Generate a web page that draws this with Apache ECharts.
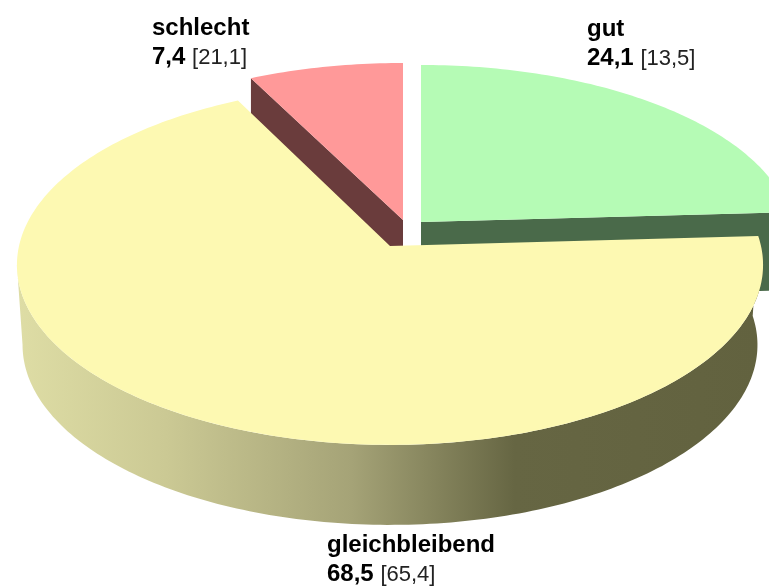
<!DOCTYPE html>
<html>
<head>
<meta charset="utf-8">
<style>html,body{margin:0;padding:0;background:#fff}#c{width:769px;height:586px}</style>
<script src="https://cdn.jsdelivr.net/npm/echarts@6/dist/echarts.min.js"></script>
</head>
<body>
<div id="c"></div>
<script>
var categories = ['gut', 'schlecht', 'gleichbleibend'];
var values = [24.1, 7.4, 68.5];
var priorValues = [13.5, 21.1, 65.4];

var topColors = ['#B5FBB5', '#FF9999', '#FDF9B2'];
var faceColors = ['#4A6A4A', '#6A3C3C', null];
var apexes = [[421, 222], [403, 220], [390, 246]];
var sliceScaleY = [0.975, 0.975, 1];
var labelAnchors = [[587, 15], [152, 14], [327, 531]];

var RX = 371, RY = 178, PERSP = 0.105, DEPTH = 80, BOTTOM_SCALE = 0.985;
var START_DEG = -90; // first slice (gut) starts at 12 o'clock
var LEFTMOST_DEG = 174; // where the projected rim is widest on the left

function fmt(v) { return v.toFixed(1).replace('.', ','); }

function rim(i, deg, lower) {
  var apex = apexes[i];
  var t = deg * Math.PI / 180, X = Math.cos(t), Y = Math.sin(t), w = 1 - PERSP * Y;
  var dx = RX * X / w, dy = sliceScaleY[i] * RY * Y / w;
  return lower ? [apex[0] + dx * BOTTOM_SCALE, apex[1] + dy + DEPTH] : [apex[0] + dx, apex[1] + dy];
}
function arc(i, a0, a1, lower) {
  var pts = [], n = Math.ceil(Math.abs(a1 - a0));
  for (var k = 0; k <= n; k++) pts.push(rim(i, a0 + (a1 - a0) * k / n, lower));
  return pts;
}
// angular span of each slice, walking gut -> gleichbleibend -> schlecht clockwise
var walk = [0, 2, 1], spans = {}, cursor = START_DEG;
walk.forEach(function (i) {
  var a = cursor, b = cursor + values[i] * 3.6;
  spans[i] = [a, b];
  cursor = b;
});

function renderItem(params, api) {
  var i = params.dataIndex, v = api.value(0), s = spans[i], apex = apexes[i];
  var kids = [];
  if (i === 2) {
    var wallEnd = Math.min(s[1], LEFTMOST_DEG);
    var top = arc(i, s[0], wallEnd, false), low = arc(i, s[0], wallEnd, true).reverse();
    kids.push({
      type: 'polygon', shape: { points: top.concat(low) },
      style: {
        fill: {
          type: 'linear', x: 17, y: 0, x2: 760, y2: 0, global: true,
          colorStops: [
            { offset: 0, color: '#DEDDA5' }, { offset: 0.2, color: '#CBC994' },
            { offset: 0.45, color: '#A5A377' }, { offset: 0.67, color: '#666643' }, { offset: 1, color: '#62623F' }
          ]
        }
      }
    });
  } else {
    // the cut face looking at the viewer
    var edgeDeg = i === 0 ? s[1] : s[0];
    var e0 = rim(i, edgeDeg, false);
    kids.push({
      type: 'polygon',
      shape: { points: [apex, e0, [e0[0], e0[1] + DEPTH - 2], [apex[0], apex[1] + DEPTH - 2]] },
      style: { fill: faceColors[i] }
    });
  }
  kids.push({
    type: 'polygon',
    shape: { points: [apex].concat(arc(i, s[0], s[1], false)) },
    style: { fill: topColors[i] }
  });
  var anchor = labelAnchors[i];
  kids.push({
    type: 'text', x: anchor[0], y: anchor[1],
    style: {
      text: '{b|' + categories[i] + '}\n{b|' + fmt(v) + ' }{n|[' + fmt(priorValues[i]) + ']}',
      rich: {
        b: { font: 'bold 24px "Liberation Sans", Arial, sans-serif', fill: '#000', lineHeight: 29 },
        n: { font: '22px "Liberation Sans", Arial, sans-serif', fill: '#222', lineHeight: 29 }
      }
    }
  });
  return { type: 'group', children: kids };
}

var chart = echarts.init(document.getElementById('c'), null, { renderer: 'canvas' });
chart.setOption({
  animation: false,
  backgroundColor: '#fff',
  series: [{
    type: 'custom',
    coordinateSystem: 'none',
    silent: true,
    renderItem: renderItem,
    data: values.map(function (v, i) { return { name: categories[i], value: [v] }; })
  }]
});
</script>
</body>
</html>
